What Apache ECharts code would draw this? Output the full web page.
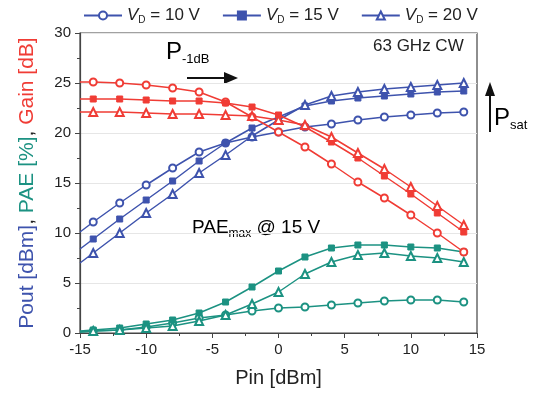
<!DOCTYPE html>
<html><head><meta charset="utf-8">
<script src="https://cdn.jsdelivr.net/npm/echarts@6/dist/echarts.min.js"></script>
<style>html,body{margin:0;padding:0;background:#fff}#c{width:537px;height:393px}</style>
</head><body><div id="c"></div>
<script>
const pin = [-14,-12,-10,-8,-6,-4,-2,0,2,4,6,8,10,12,14];
const pout10 = [11.1,13.0,14.8,16.5,18.1,19.0,19.6,20.1,20.6,20.9,21.3,21.6,21.8,22.0,22.1];
const pout15 = [9.4,11.4,13.3,15.2,17.2,19.0,20.5,21.6,22.7,23.2,23.5,23.7,23.9,24.1,24.2];
const pout20 = [8.0,10.0,12.0,13.9,16.0,17.8,19.7,21.3,22.8,23.7,24.1,24.4,24.6,24.8,25.0];
const gain10 = [25.1,25.0,24.8,24.5,24.1,23.1,21.6,20.1,18.6,16.9,15.1,13.5,11.8,10.0,8.1];
const gain15 = [23.4,23.4,23.3,23.2,23.2,23.0,22.6,21.8,20.6,19.1,17.5,15.7,13.9,12.0,10.1];
const gain20 = [22.1,22.1,22.0,21.9,21.9,21.8,21.7,21.3,20.8,19.6,18.0,16.4,14.6,12.7,10.8];
const pae10 = [0.2,0.3,0.6,1.0,1.5,1.8,2.2,2.5,2.6,2.8,3.0,3.2,3.3,3.3,3.1];
const pae15 = [0.3,0.5,0.9,1.3,2.0,3.1,4.6,6.2,7.6,8.5,8.8,8.8,8.6,8.5,8.1];
const pae20 = [0.2,0.3,0.5,0.7,1.2,1.8,2.9,4.1,5.9,7.1,7.8,8.0,7.7,7.5,7.1];
// line values where curves meet the left axis (x = -15), no marker
const edgeX = -15;
const edgePout = [10.1, 8.4, 7.0];
const edgeGain = [25.1, 23.4, 22.1];
const edgePae = [0.1, 0.2, 0.1];
const vdNames = ['10', '15', '20'];
const xTicks = [-15, 15, 5];
const yTicks = [0, 30, 5];

const BLUE = '#3e53ad', RED = '#f03c35', TEAL = '#1c9282';
const symbols = ['emptyCircle', 'rect', 'emptyTriangle'];
const symSizes = [7, 6, 8];

function build(vals, edge) {
  const d = [{value: [edgeX, edge], symbol: 'none'}];
  vals.forEach((v, i) => d.push([pin[i], v]));
  return d;
}
function mk(name, vals, edge, color, k) {
  return {
    name: name, type: 'line', data: build(vals, edge),
    symbol: symbols[k], symbolSize: symSizes[k],
    lineStyle: {color: color, width: 1.5},
    itemStyle: {color: color, borderColor: color, borderWidth: 1},
    animation: false
  };
}
const series = [];
const pouts = [pout10, pout15, pout20], gains = [gain10, gain15, gain20], paes = [pae10, pae15, pae20];
for (let k = 0; k < 3; k++) series.push(mk('VD' + vdNames[k], pouts[k], edgePout[k], BLUE, k));
for (let k = 0; k < 3; k++) series.push(mk('PAE' + vdNames[k], paes[k], edgePae[k], TEAL, k));
for (let k = 0; k < 3; k++) series.push(mk('Gain' + vdNames[k], gains[k], edgeGain[k], RED, k));

const chart = echarts.init(document.getElementById('c'), null, {renderer: 'canvas'});
const FF = 'Liberation Sans, Arial, sans-serif';
chart.setOption({
  backgroundColor: '#fff',
  textStyle: {fontFamily: FF},
  grid: {left: 80, right: 60, top: 33, bottom: 60, show: true, borderColor: '#444', borderWidth: 1.2, backgroundColor: 'transparent'},
  legend: {
    data: ['VD10', 'VD15', 'VD20'], top: 2, left: 78, itemWidth: 38, itemHeight: 10, itemGap: 22,
    formatter: n => '{i|V}{s|D}{n| = ' + n.slice(2) + ' V}',
    textStyle: {fontFamily: FF, color: '#222', rich: {
      i: {fontStyle: 'italic', fontSize: 17, fontFamily: FF, color: '#222'},
      s: {fontSize: 10, fontFamily: FF, color: '#222', padding: [10, 0, 0, 0]},
      n: {fontSize: 17, fontFamily: FF, color: '#222'}
    }}
  },
  xAxis: {
    type: 'value', min: xTicks[0], max: xTicks[1], interval: xTicks[2],
    name: 'Pin [dBm]', nameLocation: 'middle', nameGap: 35,
    nameTextStyle: {fontSize: 20, color: '#222', fontFamily: FF},
    axisLine: {onZero: false, lineStyle: {color: '#444', width: 1.2}},
    axisTick: {length: 5, lineStyle: {color: '#444'}},
    minorTick: {show: true, splitNumber: 2, length: 3, lineStyle: {color: '#444'}},
    axisLabel: {fontSize: 15, color: '#222', margin: 9, fontFamily: FF},
    splitLine: {show: false}
  },
  yAxis: {
    type: 'value', min: yTicks[0], max: yTicks[1], interval: yTicks[2],
    name: '{b|Pout [dBm]}{k|, }{t|PAE [%]}{k|, }{r|Gain [dB]}', nameLocation: 'middle', nameGap: 42,
    nameTextStyle: {fontSize: 21, fontFamily: FF, rich: {
      b: {color: BLUE, fontSize: 21, fontFamily: FF},
      t: {color: TEAL, fontSize: 21, fontFamily: FF},
      r: {color: RED, fontSize: 21, fontFamily: FF},
      k: {color: '#222', fontSize: 21, fontFamily: FF}
    }},
    axisLine: {show: true, onZero: false, lineStyle: {color: '#444', width: 1.2}},
    axisTick: {show: true, length: 5, lineStyle: {color: '#444'}},
    minorTick: {show: true, splitNumber: 2, length: 3, lineStyle: {color: '#444'}},
    axisLabel: {fontSize: 15, color: '#222', margin: 9, fontFamily: FF},
    splitLine: {show: true, lineStyle: {color: '#e6e6e6', width: 1}}
  },
  graphic: [
    {type: 'text', left: 373, top: 38, style: {text: '63 GHz CW', fontSize: 17, fontFamily: FF, fill: '#222'}},
    {type: 'text', left: 166, top: 40, style: {text: '{p|P}{s|-1dB}', fontFamily: FF, rich: {
      p: {fontSize: 24, fontFamily: FF, color: '#111'},
      s: {fontSize: 13, fontFamily: FF, color: '#111', padding: [14, 0, 0, 0]}}}},
    {type: 'line', shape: {x1: 187, y1: 78, x2: 226, y2: 78}, style: {stroke: '#111', lineWidth: 2}},
    {type: 'polygon', shape: {points: [[224, 72], [238, 78], [224, 84]]}, style: {fill: '#111'}},
    {type: 'line', shape: {x1: 490, y1: 132, x2: 490, y2: 94}, style: {stroke: '#111', lineWidth: 2}},
    {type: 'polygon', shape: {points: [[485, 96], [490, 82], [495, 96]]}, style: {fill: '#111'}},
    {type: 'text', left: 494, top: 106, style: {text: '{p|P}{s|sat}', fontFamily: FF, rich: {
      p: {fontSize: 24, fontFamily: FF, color: '#111'},
      s: {fontSize: 13, fontFamily: FF, color: '#111', padding: [14, 0, 0, 0]}}}},
    {type: 'text', left: 192, top: 218, style: {text: '{p|PAE}{s|max}{p| @ 15 V}', fontFamily: FF, rich: {
      p: {fontSize: 19, fontFamily: FF, color: '#111'},
      s: {fontSize: 12, fontFamily: FF, color: '#111', padding: [12, 0, 0, 0]}}}}
  ],
  series: series
});
</script></body></html>
